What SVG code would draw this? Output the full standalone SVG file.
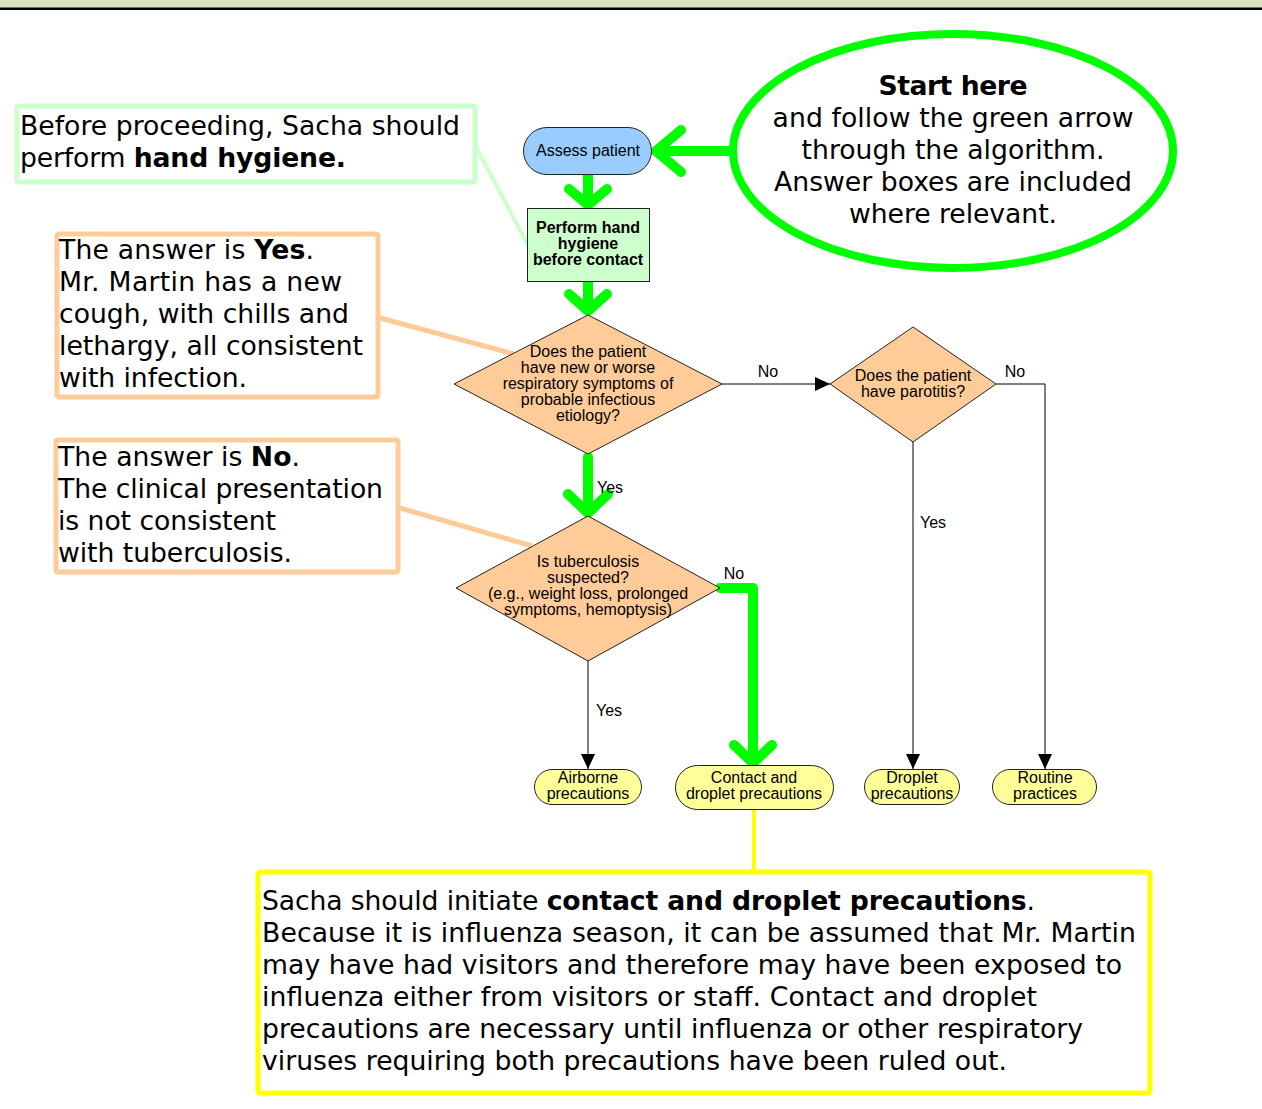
<svg xmlns="http://www.w3.org/2000/svg" width="1262" height="1109" viewBox="0 0 1262 1109">
  <style>
    .lbl { font-family: "Liberation Sans", Arial, sans-serif; font-size: 16px; fill: #000; }
    .lblb { font-family: "Liberation Sans", Arial, sans-serif; font-size: 16px; font-weight: bold; fill: #000; }
    .big { font-family: "DejaVu Sans", Verdana, sans-serif; font-size: 26.67px; fill: #000; }
    .b { font-weight: bold; }
    .shape { stroke: #222; stroke-width: 1; }
    .pill { fill: #ffff99; stroke: #222; stroke-width: 1; }
    .diamond { fill: #ffcc99; stroke: #222; stroke-width: 1; }
    .flow { fill: none; stroke: #000; stroke-width: 1; }
    .go { fill: none; stroke: #00ff00; stroke-width: 10; stroke-linecap: round; stroke-linejoin: round; }
  </style>
  <defs>
    <marker id="tri" markerUnits="userSpaceOnUse" markerWidth="16" markerHeight="16" viewBox="0 0 16 16" refX="15" refY="8" orient="auto">
      <path d="M0,1 L15,8 L0,15 Z" fill="#000"/>
    </marker>
  </defs>

  <!-- header band -->
  <rect x="0" y="0" width="1262" height="8" fill="#d8e4bc"/>
  <rect x="0" y="7.5" width="1262" height="2.5" fill="#000"/>

  <!-- callout leader lines (drawn beneath the shapes) -->
  <g id="callout-leaders">
    <line x1="475" y1="145" x2="528" y2="245" stroke="#ccffcc" stroke-width="4"/>
    <line x1="380" y1="318" x2="514" y2="354" stroke="#ffcc99" stroke-width="5"/>
    <line x1="400" y1="508" x2="532" y2="546" stroke="#ffcc99" stroke-width="5"/>
    <line x1="754" y1="810" x2="754" y2="870" stroke="#ffff00" stroke-width="4"/>
  </g>

  <!-- connectors -->
  <g id="connectors">
    <!-- plain flow lines -->
    <line class="flow" x1="722" y1="384" x2="830" y2="384" marker-end="url(#tri)"/>
    <polyline class="flow" points="996,384 1045,384 1045,769" marker-end="url(#tri)"/>
    <line class="flow" x1="913" y1="442" x2="913" y2="769" marker-end="url(#tri)"/>
    <line class="flow" x1="588" y1="661" x2="588" y2="769" marker-end="url(#tri)"/>

    <!-- highlighted path -->
    <line class="go" x1="733" y1="151" x2="656" y2="151"/>
    <polyline class="go" points="681,130 656,151 681,172"/>
    <line class="go" x1="588" y1="176" x2="588" y2="204"/>
    <polyline class="go" points="569,189 588,205 607,189"/>
    <line class="go" x1="588" y1="282" x2="588" y2="310"/>
    <polyline class="go" points="569,294 588,311 607,294"/>
    <line class="go" x1="588" y1="457" x2="588" y2="512"/>
    <polyline class="go" points="568,494 588,513 608,494"/>
    <polyline class="go" points="720,588 753,588 753,762"/>
    <polyline class="go" points="734,745 753,763 772,745"/>

    <!-- branch labels -->
    <text class="lbl" x="768" y="377" text-anchor="middle">No</text>
    <text class="lbl" x="1015" y="377" text-anchor="middle">No</text>
    <text class="lbl" x="933" y="528" text-anchor="middle">Yes</text>
    <text class="lbl" x="610" y="493" text-anchor="middle">Yes</text>
    <text class="lbl" x="734" y="579" text-anchor="middle">No</text>
    <text class="lbl" x="609" y="716" text-anchor="middle">Yes</text>
  </g>

  <!-- start ellipse -->
  <g id="start-here">
    <ellipse cx="953" cy="151" rx="220" ry="117" fill="#fff" stroke="#00ff00" stroke-width="8"/>
    <text class="big b" x="953" y="95" text-anchor="middle" textLength="149">Start here</text>
    <text class="big" x="953" y="127" text-anchor="middle" textLength="361">and follow the green arrow</text>
    <text class="big" x="953" y="159" text-anchor="middle" textLength="303">through the algorithm.</text>
    <text class="big" x="953" y="191" text-anchor="middle" textLength="358">Answer boxes are included</text>
    <text class="big" x="953" y="223" text-anchor="middle" textLength="208">where relevant.</text>
  </g>

  <g id="assess-patient">
    <rect class="shape" x="523.5" y="127.5" width="128" height="47" rx="23.5" fill="#99ccff"/>
    <text class="lbl" x="588" y="156" text-anchor="middle">Assess patient</text>
  </g>

  <g id="hand-hygiene">
    <rect class="shape" x="527.5" y="208.5" width="122" height="73" fill="#ccffcc"/>
    <text class="lblb" x="588" y="233" text-anchor="middle">Perform hand</text>
    <text class="lblb" x="588" y="249" text-anchor="middle">hygiene</text>
    <text class="lblb" x="588" y="265" text-anchor="middle">before contact</text>
  </g>

  <g id="q-respiratory">
    <polygon class="diamond" points="588,315 722,384 588,454 454,384"/>
    <text class="lbl" x="588" y="357" text-anchor="middle">Does the patient</text>
    <text class="lbl" x="588" y="373" text-anchor="middle">have new or worse</text>
    <text class="lbl" x="588" y="389" text-anchor="middle">respiratory symptoms of</text>
    <text class="lbl" x="588" y="405" text-anchor="middle">probable infectious</text>
    <text class="lbl" x="588" y="421" text-anchor="middle">etiology?</text>
  </g>

  <g id="q-parotitis">
    <polygon class="diamond" points="913,327 996,384 913,442 830,384"/>
    <text class="lbl" x="913" y="381" text-anchor="middle">Does the patient</text>
    <text class="lbl" x="913" y="397" text-anchor="middle">have parotitis?</text>
  </g>

  <g id="q-tuberculosis">
    <polygon class="diamond" points="588,516 720,588 588,661 456,588"/>
    <text class="lbl" x="588" y="567" text-anchor="middle">Is tuberculosis</text>
    <text class="lbl" x="588" y="583" text-anchor="middle">suspected?</text>
    <text class="lbl" x="588" y="599" text-anchor="middle">(e.g., weight loss, prolonged</text>
    <text class="lbl" x="588" y="615" text-anchor="middle">symptoms, hemoptysis)</text>
  </g>

  <g id="airborne">
    <rect class="pill" x="534.5" y="769.5" width="107" height="35" rx="17.5"/>
    <text class="lbl" x="588" y="783" text-anchor="middle">Airborne</text>
    <text class="lbl" x="588" y="799" text-anchor="middle">precautions</text>
  </g>

  <g id="contact-droplet">
    <rect class="pill" x="675.5" y="765.5" width="158" height="44" rx="22"/>
    <text class="lbl" x="754" y="783" text-anchor="middle">Contact and</text>
    <text class="lbl" x="754" y="799" text-anchor="middle">droplet precautions</text>
  </g>

  <g id="droplet">
    <rect class="pill" x="864.5" y="769.5" width="95" height="35" rx="17.5"/>
    <text class="lbl" x="912" y="783" text-anchor="middle">Droplet</text>
    <text class="lbl" x="912" y="799" text-anchor="middle">precautions</text>
  </g>

  <g id="routine">
    <rect class="pill" x="992.5" y="769.5" width="104" height="35" rx="17.5"/>
    <text class="lbl" x="1045" y="783" text-anchor="middle">Routine</text>
    <text class="lbl" x="1045" y="799" text-anchor="middle">practices</text>
  </g>

  <!-- answer boxes -->
  <g id="answer-hygiene">
    <rect x="17" y="106" width="458" height="76" rx="2" fill="#fff" stroke="#ccffcc" stroke-width="5"/>
    <text class="big" x="20" y="135" textLength="440">Before proceeding, Sacha should</text>
    <text class="big" x="20" y="167" textLength="326">perform <tspan class="b">hand hygiene.</tspan></text>
  </g>

  <g id="answer-respiratory">
    <rect x="57" y="234" width="321" height="163" rx="2" fill="#fff" stroke="#ffcc99" stroke-width="5"/>
    <text class="big" x="59" y="259" textLength="255">The answer is <tspan class="b">Yes</tspan>.</text>
    <text class="big" x="59" y="291" textLength="283">Mr. Martin has a new</text>
    <text class="big" x="59" y="323" textLength="290">cough, with chills and</text>
    <text class="big" x="59" y="355" textLength="304">lethargy, all consistent</text>
    <text class="big" x="59" y="387" textLength="188">with infection.</text>
  </g>

  <g id="answer-tuberculosis">
    <rect x="56" y="440" width="342" height="132" rx="2" fill="#fff" stroke="#ffcc99" stroke-width="5"/>
    <text class="big" x="58" y="466" textLength="242">The answer is <tspan class="b">No</tspan>.</text>
    <text class="big" x="58" y="498" textLength="325">The clinical presentation</text>
    <text class="big" x="58" y="530" textLength="218">is not consistent</text>
    <text class="big" x="58" y="562" textLength="234">with tuberculosis.</text>
  </g>

  <g id="answer-outcome">
    <rect x="258" y="872" width="892" height="221" rx="2" fill="#fff" stroke="#ffff00" stroke-width="5"/>
    <text class="big" x="262" y="910" textLength="773">Sacha should initiate <tspan class="b">contact and droplet precautions</tspan>.</text>
    <text class="big" x="262" y="942" textLength="874">Because it is influenza season, it can be assumed that Mr. Martin</text>
    <text class="big" x="262" y="974" textLength="860">may have had visitors and therefore may have been exposed to</text>
    <text class="big" x="262" y="1006" textLength="775">influenza either from visitors or staff. Contact and droplet</text>
    <text class="big" x="262" y="1038" textLength="821">precautions are necessary until influenza or other respiratory</text>
    <text class="big" x="262" y="1070" textLength="745">viruses requiring both precautions have been ruled out.</text>
  </g>
</svg>
